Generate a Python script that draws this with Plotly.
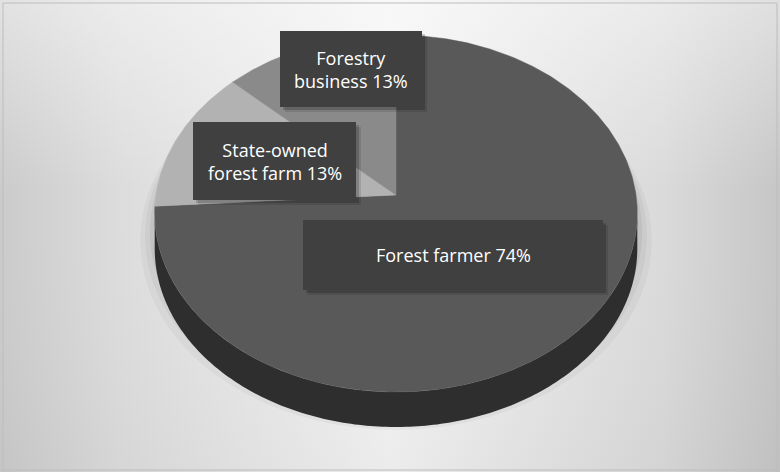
import numpy as np
import plotly.graph_objects as go

# ---- data ----
categories = ["Forest farmer", "State-owned forest farm", "Forestry business"]
values = [74, 13, 13]
label_lines = ["Forest farmer 74%", "State-owned<br>forest farm 13%", "Forestry<br>business 13%"]
slice_colors = ["#595959", "#b2b2b2", "#8a8a8a"]

# ---- geometry of the 3D pie (pixel space) ----
W, H = 780, 472
cx, cy = 396, 195          # projected centre of the top face
R, HR, K = 240, 176.6, 0.1036   # horizontal radius, vertical radius, perspective factor
DEPTH = 35


def proj(theta):
    u, v = np.cos(theta), np.sin(theta)
    s = 1.0 / (1.0 + K * v)
    return cx + R * u * s, cy - HR * v * s


fig = go.Figure()

# background: horizontal gradient + vertical overlay
fig.add_trace(go.Scatter(
    x=[0, 780, 780, 0, 0], y=[0, 0, 472, 472, 0],
    fill="toself", mode="none", hoverinfo="skip", showlegend=False,
    fillgradient=dict(type="horizontal",
                      colorscale=[[0, "#cbcbcb"], [0.15, "#dcdcdc"], [0.5, "#f3f3f3"],
                                  [0.85, "#dadada"], [1, "#c6c6c6"]]),
))
fig.add_trace(go.Scatter(
    x=[0, 780, 780, 0, 0], y=[0, 0, 472, 472, 0],
    fill="toself", mode="none", hoverinfo="skip", showlegend=False,
    fillgradient=dict(type="vertical",
                      colorscale=[[0, "rgba(0,0,0,0.03)"], [0.6, "rgba(255,255,255,0.0)"],
                                  [1, "rgba(255,255,255,0.45)"]]),
))

# soft shadow beneath the pie
for f, off, a in [(1.06, 26, 0.035), (1.04, 22, 0.04), (1.02, 18, 0.05)]:
    t = np.linspace(0, 2 * np.pi, 240)
    sx, sy = proj(t)
    sx = cx + (sx - cx) * f
    sy = cy + off + (sy - cy) * f
    fig.add_trace(go.Scatter(x=sx, y=sy, fill="toself", mode="none",
                             fillcolor=f"rgba(0,0,0,{a})", hoverinfo="skip", showlegend=False))

# side wall (front half of the disc)
a0 = np.arcsin(K)
tn = np.linspace(np.pi + a0, 2 * np.pi - a0, 200)
nx, ny = proj(tn)
side_x = np.concatenate([nx, nx[::-1]])
side_y = np.concatenate([ny, ny[::-1] + DEPTH])
fig.add_trace(go.Scatter(x=side_x, y=side_y, fill="toself", mode="none",
                         fillcolor="#2e2e2e", hoverinfo="skip", showlegend=False))

# top face slices, clockwise from 12 o'clock
total = float(sum(values))
start = np.pi / 2
for name, val, col in zip(categories, values, slice_colors):
    sweep = 2 * np.pi * val / total
    t = np.linspace(start, start - sweep, max(8, int(val * 6)))
    ax, ay = proj(t)
    px = np.concatenate([[cx], ax, [cx]])
    py = np.concatenate([[cy], ay, [cy]])
    fig.add_trace(go.Scatter(x=px, y=py, fill="toself", mode="lines",
                             line=dict(color=col, width=0.5), fillcolor=col,
                             name=name, hoverinfo="name", showlegend=False))
    start -= sweep

# label boxes (layout positions)
boxes = [
    (303, 220, 603, 290),   # Forest farmer
    (193, 122, 356, 200),   # State-owned forest farm
    (280, 31, 422, 107),    # Forestry business
]
shapes = [dict(type="rect", xref="x", yref="y", x0=3, y0=3, x1=777, y1=470,
               line=dict(color="#bdbdbd", width=1), fillcolor="rgba(0,0,0,0)", layer="above")]
annotations = []
for (x0, y0, x1, y1), txt in zip(boxes, label_lines):
    for d, a in [(5, 0.10), (3, 0.18)]:
        shapes.append(dict(type="rect", xref="x", yref="y", x0=x0 + d, y0=y0 + d, x1=x1 + d, y1=y1 + d,
                           line=dict(width=0), fillcolor=f"rgba(0,0,0,{a})", layer="above"))
    shapes.append(dict(type="rect", xref="x", yref="y", x0=x0, y0=y0, x1=x1, y1=y1,
                       line=dict(width=0), fillcolor="#404040", layer="above"))
    annotations.append(dict(x=(x0 + x1) / 2, y=(y0 + y1) / 2, xref="x", yref="y", text=txt,
                            showarrow=False, align="center",
                            font=dict(family="Open Sans", size=18, color="#ffffff")))

fig.update_layout(
    width=W, height=H, margin=dict(l=0, r=0, t=0, b=0),
    paper_bgcolor="#ffffff", plot_bgcolor="#ffffff",
    xaxis=dict(range=[0, W], visible=False, fixedrange=True),
    yaxis=dict(range=[H, 0], visible=False, fixedrange=True),
    shapes=shapes, annotations=annotations, showlegend=False,
)

fig.write_html("out.html")
